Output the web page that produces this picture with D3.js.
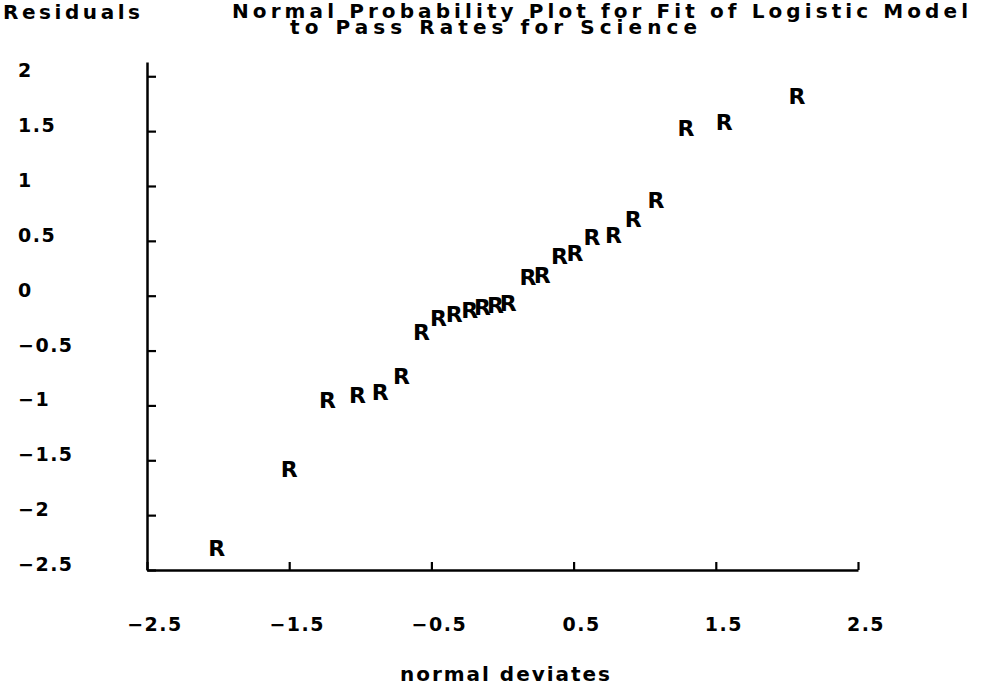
<!DOCTYPE html>
<html>
<head>
<meta charset="utf-8">
<script src="https://cdn.jsdelivr.net/npm/d3@7"></script>
<style>
  body { margin: 0; background: #fff; }
  svg { display: block; font-family: "DejaVu Sans", sans-serif; font-weight: bold; }
</style>
</head>
<body>
<svg id="chart" width="991" height="688"></svg>
<script>
// normal deviates (x) and residuals (y)
const normalDeviates = [
  -2.01, -1.50, -1.23, -1.02, -0.86, -0.71, -0.57, -0.45,
  -0.34, -0.23, -0.14, -0.05, 0.04, 0.18, 0.28, 0.40,
  0.51, 0.63, 0.78, 0.92, 1.08, 1.29, 1.56, 2.07
];
const residuals = [
  -2.30, -1.58, -0.95, -0.91, -0.88, -0.73, -0.33, -0.20,
  -0.17, -0.13, -0.10, -0.09, -0.07, 0.17, 0.19, 0.36,
  0.39, 0.53, 0.55, 0.70, 0.87, 1.53, 1.58, 1.82
];
const xTicks = [-2.5, -1.5, -0.5, 0.5, 1.5, 2.5];
const yTicks = [2, 1.5, 1, 0.5, 0, -0.5, -1, -1.5, -2, -2.5];

const label = d => String(d).replace("-", "\u2212");

const $svg = d3.select("#chart");

const x = d3.scaleLinear().domain([-2.5, 2.5]).range([147, 858]);
const y = d3.scaleLinear().domain([-2.5, 2.13]).range([570, 62]);

// Axes
const xAxis = d3.axisBottom(x).tickValues(xTicks).tickSize(-8).tickSizeOuter(0).tickFormat("");
const yAxis = d3.axisLeft(y).tickValues(yTicks).tickSize(-9).tickSizeOuter(0).tickFormat("");

const $xAxis = $svg.append("g").attr("transform", "translate(0,570)").call(xAxis);
const $yAxis = $svg.append("g").attr("transform", "translate(147,0)").call(yAxis);
[$xAxis, $yAxis].forEach($a => {
  $a.select(".domain").attr("stroke", "#000").attr("stroke-width", 2.5);
  $a.selectAll(".tick line").attr("stroke", "#000").attr("stroke-width", 2.2);
});

// Tick labels
$svg.append("g")
  .selectAll("text")
  .data(yTicks)
  .join("text")
    .attr("x", 18)
    .attr("y", d => y(d) + 1)
    .attr("font-size", 19)
    .attr("letter-spacing", 1.5)
    .text(label);

$svg.append("g")
  .selectAll("text")
  .data(xTicks)
  .join("text")
    .attr("x", d => x(d) + 8)
    .attr("y", 631)
    .attr("text-anchor", "middle")
    .attr("font-size", 19)
    .attr("letter-spacing", 1.5)
    .text(label);

// Titles
$svg.append("text")
  .attr("x", 3).attr("y", 19)
  .attr("font-size", 20)
  .attr("textLength", 137).attr("lengthAdjust", "spacing")
  .text("Residuals");

$svg.append("text")
  .attr("x", 232).attr("y", 18)
  .attr("font-size", 20)
  .attr("textLength", 736).attr("lengthAdjust", "spacing")
  .text("Normal Probability Plot for Fit of Logistic Model");

$svg.append("text")
  .attr("x", 290).attr("y", 34)
  .attr("font-size", 20)
  .attr("textLength", 407).attr("lengthAdjust", "spacing")
  .text("to Pass Rates for Science");

$svg.append("text")
  .attr("x", 400).attr("y", 681)
  .attr("font-size", 20)
  .attr("textLength", 210).attr("lengthAdjust", "spacing")
  .text("normal deviates");

// Points drawn as "R"
$svg.append("g")
  .selectAll("text")
  .data(d3.zip(normalDeviates, residuals))
  .join("text")
    .attr("x", d => x(d[0]))
    .attr("y", d => y(d[1]))
    .attr("dy", "0.36em")
    .attr("text-anchor", "middle")
    .attr("font-size", 22)
    .text("R");
</script>
</body>
</html>
